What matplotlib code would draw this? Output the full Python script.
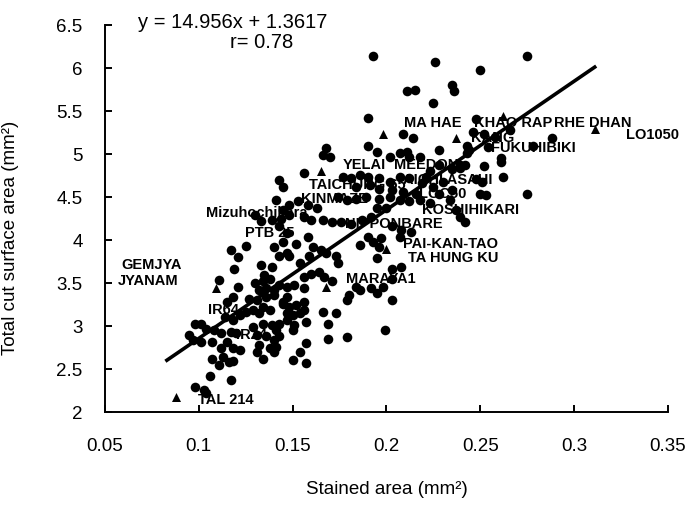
import numpy as np
import matplotlib
matplotlib.use("Agg")
import matplotlib.pyplot as plt

plt.rcParams["font.family"] = ["Liberation Sans", "DejaVu Sans"]

# accessions (circles)
dot_x = [0.193, 0.226, 0.275, 0.250, 0.235, 0.236, 0.211, 0.215, 0.225, 0.190, 0.248, 0.209, 0.214,
         0.246, 0.252, 0.266, 0.258, 0.288, 0.190, 0.195, 0.168, 0.166, 0.170, 0.202, 0.207, 0.211,
         0.212, 0.228, 0.243, 0.244, 0.254, 0.278, 0.261, 0.243, 0.261, 0.252, 0.239, 0.242, 0.262,
         0.248, 0.251, 0.275, 0.250, 0.253, 0.239, 0.242, 0.218, 0.223, 0.228, 0.235, 0.239, 0.219,
         0.225, 0.230, 0.235, 0.228, 0.234, 0.237, 0.218, 0.223,
         0.156, 0.143, 0.145, 0.177, 0.181, 0.186, 0.190, 0.196, 0.202, 0.207, 0.212, 0.221, 0.184,
         0.191, 0.196, 0.203, 0.209, 0.216, 0.174, 0.179, 0.184, 0.189, 0.196, 0.202, 0.207, 0.212,
         0.148, 0.153, 0.158, 0.163, 0.145, 0.148, 0.156, 0.160, 0.166, 0.171, 0.176, 0.181, 0.187,
         0.192, 0.195, 0.200, 0.203, 0.208, 0.213, 0.143, 0.147, 0.145, 0.152, 0.158, 0.161, 0.165,
         0.159, 0.168, 0.173, 0.174, 0.164, 0.154, 0.148, 0.190, 0.193, 0.197, 0.196, 0.195, 0.203,
         0.208, 0.207, 0.186,
         0.141, 0.130, 0.133, 0.139, 0.144, 0.117, 0.125, 0.121, 0.119, 0.140, 0.143, 0.147, 0.133,
         0.139, 0.135, 0.111,
         0.121, 0.130, 0.134, 0.138, 0.132, 0.136, 0.140, 0.143, 0.118, 0.115, 0.127, 0.131, 0.136,
         0.140, 0.145, 0.147, 0.134, 0.138, 0.132, 0.129, 0.125, 0.122, 0.118, 0.114, 0.098, 0.101,
         0.104, 0.108, 0.095, 0.097, 0.101, 0.107, 0.112, 0.117, 0.120, 0.115, 0.112, 0.118, 0.122,
         0.113, 0.107, 0.111, 0.116, 0.118, 0.106, 0.117, 0.098, 0.103, 0.104, 0.129, 0.134, 0.139,
         0.141, 0.131, 0.136, 0.140, 0.132, 0.138, 0.131, 0.134, 0.140, 0.141, 0.143, 0.147, 0.143,
         0.147, 0.151, 0.156, 0.156, 0.160, 0.167, 0.171, 0.145, 0.148, 0.152, 0.156, 0.156, 0.150,
         0.147, 0.154, 0.157, 0.150, 0.151, 0.157, 0.154, 0.150, 0.157, 0.166, 0.173, 0.169, 0.169,
         0.179, 0.184, 0.180, 0.179, 0.186, 0.192, 0.195, 0.198, 0.203, 0.199, 0.203]
dot_y = [6.14, 6.07, 6.14, 5.98, 5.80, 5.74, 5.73, 5.75, 5.59, 5.42, 5.41, 5.24, 5.19,
         5.26, 5.23, 5.28, 5.20, 5.19, 5.10, 5.03, 5.07, 4.99, 4.97, 4.97, 5.01, 5.03,
         4.97, 5.05, 5.10, 5.05, 5.08, 5.10, 4.95, 5.01, 4.91, 4.86, 4.84, 4.88, 4.74,
         4.71, 4.68, 4.54, 4.54, 4.53, 4.27, 4.21, 4.97, 4.81, 4.87, 4.83, 4.87, 4.66,
         4.62, 4.68, 4.58, 4.54, 4.47, 4.35, 4.47, 4.43,
         4.78, 4.70, 4.62, 4.74, 4.72, 4.76, 4.74, 4.72, 4.68, 4.74, 4.72, 4.74, 4.62,
         4.64, 4.60, 4.58, 4.56, 4.54, 4.50, 4.47, 4.48, 4.50, 4.48, 4.50, 4.47, 4.45,
         4.41, 4.45, 4.41, 4.37, 4.35, 4.29, 4.27, 4.23, 4.23, 4.21, 4.21, 4.19, 4.23,
         4.27, 4.37, 4.37, 4.16, 4.12, 4.10, 4.16, 4.08, 3.98, 3.96, 4.04, 3.92, 3.88,
         3.81, 3.85, 3.81, 3.73, 3.63, 3.73, 3.81, 4.04, 3.98, 4.02, 3.92, 3.79, 3.67,
         3.69, 4.04, 3.94,
         4.47, 4.29, 4.22, 4.23, 4.25, 3.89, 3.93, 3.80, 3.67, 3.92, 3.81, 3.85, 3.71,
         3.69, 3.59, 3.54,
         3.46, 3.50, 3.53, 3.55, 3.42, 3.44, 3.42, 3.48, 3.34, 3.28, 3.32, 3.30, 3.34,
         3.36, 3.28, 3.34, 3.22, 3.19, 3.15, 3.19, 3.17, 3.13, 3.07, 3.11, 3.03, 3.03,
         2.97, 2.95, 2.90, 2.84, 2.82, 2.82, 2.92, 2.93, 2.92, 2.82, 2.74, 2.74, 2.72,
         2.64, 2.62, 2.55, 2.58, 2.60, 2.42, 2.37, 2.29, 2.26, 2.22, 2.99, 3.03, 3.01,
         2.95, 2.90, 2.88, 2.84, 2.78, 2.74, 2.70, 2.62, 2.70, 2.76, 3.03, 3.15, 2.88,
         3.46, 3.48, 3.44, 3.57, 3.61, 3.57, 3.52, 3.26, 3.22, 3.24, 3.28, 3.19, 3.13,
         3.07, 3.15, 3.05, 2.95, 3.01, 2.80, 2.70, 2.61, 2.57, 3.17, 3.15, 3.03, 2.85,
         2.87, 3.46, 3.36, 3.30, 3.42, 3.44, 3.38, 3.46, 3.30, 2.95, 3.55]

# named varieties (triangles)
tri_x = [0.088, 0.109, 0.165, 0.198, 0.237, 0.262, 0.311, 0.200, 0.168]
tri_y = [2.18, 3.44, 4.81, 5.24, 5.19, 5.45, 5.29, 3.90, 3.46]

# variety labels
lab_text = ["TAL 214", "GEMJYA", "JYANAM", "IR64", "IR24", "Mizuhochikara", "PTB 25",
            "KINMAZE", "TAICHUNG 65", "YELAI", "MEEDON", "MA HAE", "KHAO RAP", "RHE DHAN",
            "LO1050", "KANG", "FUKUHIBIKI", "AICHI ASAHI", "LOC50", "KOSHIHIKARI",
            "NIPPONBARE", "PAI-KAN-TAO", "TA HUNG KU", "MARAYA1"]
lab_x = [0.0996, 0.0585, 0.057, 0.105, 0.120, 0.1036, 0.1245,
         0.1546, 0.159, 0.1768, 0.204, 0.2096, 0.2468, 0.2894,
         0.3275, 0.245, 0.2557, 0.209, 0.2176, 0.219,
         0.1777, 0.2087, 0.2113, 0.1786]
lab_y = [2.14, 3.71, 3.53, 3.19, 2.90, 4.32, 4.08,
         4.48, 4.64, 4.87, 4.87, 5.36, 5.36, 5.36,
         5.22, 5.19, 5.07, 4.70, 4.54, 4.35,
         4.19, 3.96, 3.79, 3.55]

x_ticks = [0.05, 0.1, 0.15, 0.2, 0.25, 0.3, 0.35]
x_tick_labels = ["0.05", "0.1", "0.15", "0.2", "0.25", "0.3", "0.35"]
y_ticks = [2, 2.5, 3, 3.5, 4, 4.5, 5, 5.5, 6, 6.5]
y_tick_labels = ["2", "2.5", "3", "3.5", "4", "4.5", "5", "5.5", "6", "6.5"]

slope, intercept = 14.956, 1.3617
fit_range = [0.083, 0.311]

fig = plt.figure(figsize=(6.95, 5.05), dpi=100)
ax = fig.add_axes([0.151, 0.184, 0.810, 0.766])

ax.scatter(dot_x, dot_y, s=48, c="black", marker="o", linewidths=0, zorder=3)
ax.scatter(tri_x, tri_y, s=42, c="black", marker="^", linewidths=0, zorder=3)
fx = np.array(fit_range)
ax.plot(fx, slope * fx + intercept, color="black", lw=2.6, zorder=4)

for t, x, y in zip(lab_text, lab_x, lab_y):
    ax.text(x, y, t, fontsize=10.5, fontweight="bold", ha="left", va="center", zorder=5)

ax.text(0.0676, 6.53, "y = 14.956x + 1.3617", fontsize=14.5, ha="left", va="center")
ax.text(0.1165, 6.30, "r= 0.78", fontsize=14.5, ha="left", va="center")

ax.set_xlim(0.05, 0.35)
ax.set_ylim(2, 6.5)
ax.set_xticks(x_ticks)
ax.set_xticklabels(x_tick_labels)
ax.set_yticks(y_ticks)
ax.set_yticklabels(y_tick_labels)
ax.tick_params(direction="in", length=5, width=1.4, labelsize=13.5)
ax.tick_params(axis="x", pad=19)
ax.tick_params(axis="y", pad=16)
for side in ["top", "right"]:
    ax.spines[side].set_visible(False)
for side in ["left", "bottom"]:
    ax.spines[side].set_linewidth(1.4)

ax.set_xlabel("Stained area (mm²)", fontsize=13.5)
ax.set_ylabel("Total cut surface area (mm²)", fontsize=13.5)
ax.xaxis.set_label_coords(0.5, -0.178)
ax.yaxis.set_label_coords(-0.152, 0.45)

fig.savefig("out.png", dpi=100)
